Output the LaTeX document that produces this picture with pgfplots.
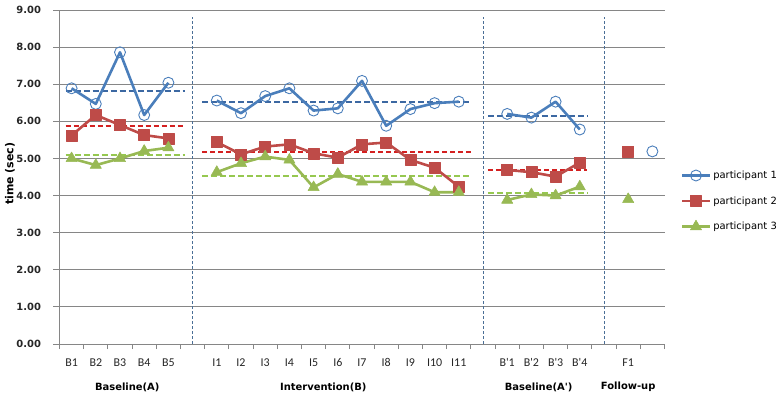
\documentclass[border=0pt]{standalone}
\usepackage{pgfplots}
\pgfplotsset{compat=1.18}
\usepackage{fontspec}
\setmainfont{DejaVu Sans}
\newfontfamily\calfont{Carlito}
\definecolor{pblue}{RGB}{74,126,187}
\definecolor{pred}{RGB}{190,75,72}
\definecolor{pgreen}{RGB}{152,185,84}
\definecolor{mblue}{RGB}{60,104,162}
\definecolor{mred}{RGB}{212,32,32}
\definecolor{mgreen}{RGB}{150,200,80}
\definecolor{sepblue}{RGB}{74,110,150}
\definecolor{gridgray}{RGB}{134,134,134}
\newcommand{\q}{\textquotesingle}
\begin{document}
\begin{tikzpicture}
\begin{axis}[
    scale only axis,
    width=605bp, height=334bp,
    xmin=-0.5, xmax=24.5, ymin=0, ymax=9,
    clip=false,
    axis x line=bottom, axis y line=left,
    axis line style={-, draw=gridgray, line width=1bp},
    tick align=outside,
    ytick={0,...,9},
    ymajorgrids,
    grid style={gridgray, line width=1bp},
    major tick length=6bp, minor tick length=5bp,
    major tick style={draw=gridgray, line width=1bp},
    major x tick style={draw=none},
    minor x tick style={draw=gridgray, line width=1bp},
    xtick={0,...,24},
    minor xtick={-0.5,0.5,...,24.5},
    xticklabels={B1,B2,B3,B4,B5,,I1,I2,I3,I4,I5,I6,I7,I8,I9,I10,I11,,{B\q1},{B\q2},{B\q3},{B\q4},,F1,},
    xticklabel style={font=\calfont\fontsize{12}{14}\selectfont, text=black!85,
        text height=8bp, text depth=1bp, yshift=-5bp},
    yticklabel style={font=\bfseries\fontsize{10}{12}\selectfont, text=black!85, xshift=-9bp,
        /pgf/number format/.cd, fixed, fixed zerofill, precision=2, assume math mode=true},
    ylabel={time (sec)},
    ylabel style={font=\bfseries\fontsize{11}{13}\selectfont, at={(axis description cs:0,0.51)},
        yshift=49.5bp, anchor=center},
    legend style={at={(1,0.428)}, anchor=west, xshift=16bp, draw=none, fill=none,
        font=\fontsize{10}{12}\selectfont, row sep=12.5bp, inner sep=0pt},
    legend cell align=left,
    legend image code/.code={\draw[mark repeat=2,mark phase=2,#1] plot coordinates {(0bp,0bp) (14bp,0bp) (28bp,0bp)};},
    unbounded coords=jump,
]
% phase separators
\addplot[forget plot, sepblue, line width=0.8bp, dash pattern=on 3bp off 2bp] coordinates {(5,0) (5,8.8)};
\addplot[forget plot, sepblue, line width=0.8bp, dash pattern=on 3bp off 2bp] coordinates {(17,0) (17,8.8)};
\addplot[forget plot, sepblue, line width=0.8bp, dash pattern=on 3bp off 2bp] coordinates {(22,0) (22,8.8)};
% phase means
\addplot[forget plot, mblue, line width=2bp, dash pattern=on 6bp off 3bp] coordinates {(-0.25,6.83) (4.7,6.83) (5,nan) (5.4,6.51) (16.5,6.51) (17,nan) (17.2,6.15) (21.3,6.15)};
\addplot[forget plot, mred, line width=2bp, dash pattern=on 5bp off 3bp] coordinates {(-0.25,5.88) (4.7,5.88) (5,nan) (5.4,5.18) (16.5,5.18) (17,nan) (17.2,4.69) (21.3,4.69)};
\addplot[forget plot, mgreen, line width=2bp, dash pattern=on 6bp off 3bp] coordinates {(-0.25,5.09) (4.7,5.09) (5,nan) (5.4,4.53) (16.5,4.53) (17,nan) (17.2,4.07) (21.3,4.07)};
% participants
\addplot[pblue, line width=2.6bp, line join=round, mark=o, mark size=5.5bp,
    mark options={solid, draw=pblue, line width=0.9bp, fill=none}] coordinates {
    (0,6.89) (1,6.47) (2,7.86) (3,6.17) (4,7.04) (5,nan)
    (6,6.56) (7,6.22) (8,6.68) (9,6.89) (10,6.29) (11,6.35) (12,7.09) (13,5.88) (14,6.33) (15,6.49) (16,6.53) (17,nan)
    (18,6.20) (19,6.10) (20,6.53) (21,5.78) (22,nan)
    (24,5.19)
};
\addplot[pred, line width=2.6bp, line join=round, mark=square*, mark size=5.5bp,
    mark options={solid, draw=pred, fill=pred, line width=0.5bp}] coordinates {
    (0,5.62) (1,6.17) (2,5.90) (3,5.63) (4,5.54) (5,nan)
    (6,5.44) (7,5.11) (8,5.32) (9,5.38) (10,5.14) (11,5.02) (12,5.38) (13,5.43) (14,4.96) (15,4.75) (16,4.24) (17,nan)
    (18,4.69) (19,4.63) (20,4.51) (21,4.89) (22,nan)
    (23,5.19)
};
\addplot[pgreen, line width=2.6bp, line join=round, mark=triangle*, mark size=6.5bp,
    mark options={solid, draw=pgreen, fill=pgreen, line width=0.5bp}] coordinates {
    (0,5.00) (1,4.82) (2,5.00) (3,5.20) (4,5.29) (5,nan)
    (6,4.63) (7,4.87) (8,5.05) (9,4.96) (10,4.22) (11,4.58) (12,4.37) (13,4.37) (14,4.37) (15,4.09) (16,4.09) (17,nan)
    (18,3.88) (19,4.03) (20,4.00) (21,4.24) (22,nan)
    (23,3.90)
};
\legend{participant 1,participant 2,participant 3}
% phase names
\node[font=\bfseries\fontsize{10}{12}\selectfont] at (axis cs:2.3,0) [yshift=-43bp] {Baseline(A)};
\node[font=\bfseries\fontsize{10}{12}\selectfont] at (axis cs:10.4,0) [yshift=-43bp] {Intervention(B)};
\node[font=\bfseries\fontsize{10}{12}\selectfont] at (axis cs:19.3,0) [yshift=-43bp] {Baseline(A\q)};
\node[font=\bfseries\fontsize{10}{12}\selectfont] at (axis cs:23,0) [yshift=-43bp] {Follow-up};
% page frame
\path ([xshift=-59.5bp, yshift=-57bp]rel axis cs:0,0) rectangle ([xshift=119.5bp, yshift=10bp]rel axis cs:1,1);
\end{axis}
\end{tikzpicture}
\end{document}
